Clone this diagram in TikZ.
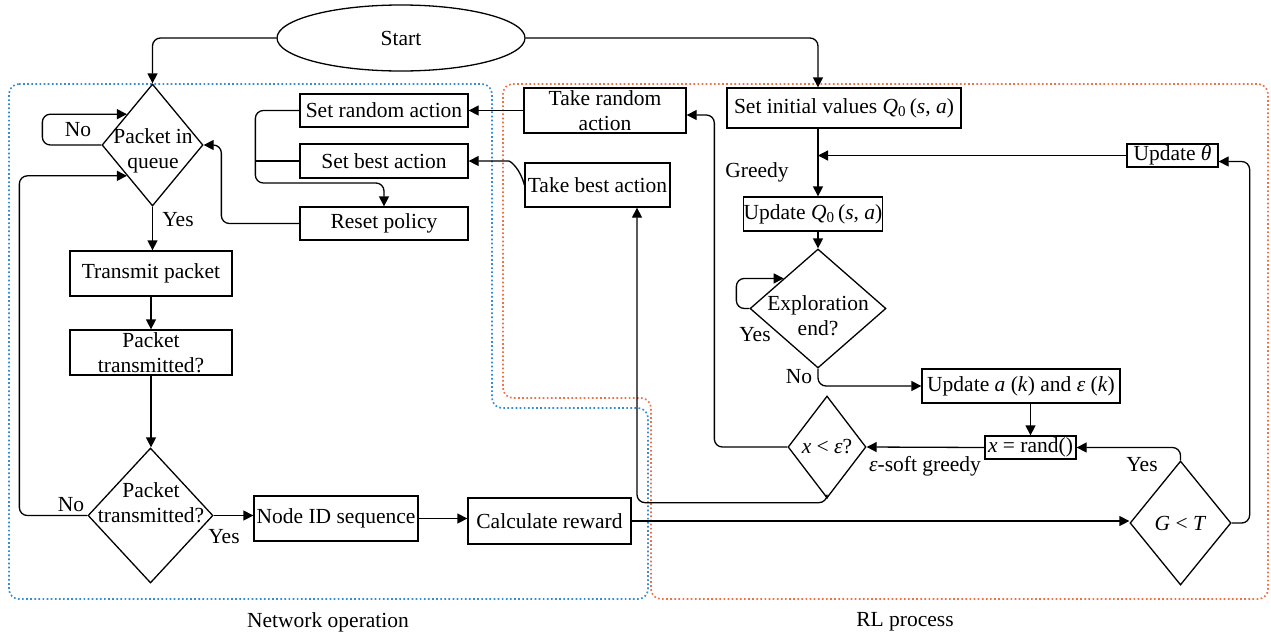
\documentclass[tikz,border=0pt]{standalone}
\usepackage{fontspec}
\setmainfont{Liberation Serif}
\usetikzlibrary{arrows.meta,shapes.geometric,calc}
\definecolor{netblue}{RGB}{52,140,214}
\definecolor{rlorange}{RGB}{240,112,72}
\begin{document}
\begin{tikzpicture}[x=1pt,y=-1pt,font=\fontsize{21.5}{25}\selectfont,
  box/.style={draw,line width=1.3pt,inner sep=0pt,align=center},
  dia/.style={draw,diamond,line width=1.3pt,inner sep=0pt},
  conn/.style={line width=1.3pt,rounded corners=8pt},
  arr/.style={conn,-{Triangle[length=10pt,width=10pt]}},
  lbl/.style={inner sep=0pt,align=center},
  region/.style={line width=1.7pt,dash pattern=on 1.7pt off 2.4pt,rounded corners=10pt}]
\useasboundingbox (0,0) rectangle (1271,638);
% regions
\draw[region,netblue] (9,84) -- (492,84) -- (492,408) -- (648,408) -- (648,599) -- (9,599) -- cycle;
\draw[region,rlorange] (503,84) -- (1268,84) -- (1268,599) -- (651,599) -- (651,398) -- (503,398) -- cycle;
% nodes
\node[draw,ellipse,line width=1.3pt,inner sep=0pt,minimum width=248pt,minimum height=66pt] (start) at (401,38) {Start};
\node[dia,minimum width=101pt,minimum height=122pt] (dq) at (152.5,145) {};
\node[lbl] (dqt) at (153,151) {Packet in\\queue};
\node[box,minimum width=168pt,minimum height=33pt] (sra) at (384,110.5) {Set random action};
\node[box,minimum width=168pt,minimum height=34pt] (sba) at (384,161) {Set best action};
\node[box,minimum width=168pt,minimum height=33pt] (rp) at (384,223.5) {Reset policy};
\node[box,minimum width=162pt,minimum height=45pt] (tp) at (151,273.5) {Transmit packet};
\node[box,minimum width=162pt,minimum height=45pt] (ptb) at (151,352.5) {Packet\\transmitted?};
\node[dia,minimum width=125pt,minimum height=135pt] (dpt) at (150.5,515.5) {};
\node[lbl] (dptt) at (151,503) {Packet\\transmitted?};
\node[box,minimum width=164pt,minimum height=45pt] (nid) at (336,518.5) {Node ID sequence};
\node[box,minimum width=163pt,minimum height=46pt] (cr) at (549.5,521) {Calculate reward};
\node[box,minimum width=162pt,minimum height=45pt] (tra) at (605,110.5) {Take random\\action};
\node[box,minimum width=145pt,minimum height=44pt] (tba) at (597.5,185) {Take best action};
\node[box,minimum width=234pt,minimum height=40pt] (siv) at (844,108) {Set initial values \textit{Q}\textsubscript{0}\,(\textit{s}, \textit{a})};
\node[box,minimum width=138pt,minimum height=34pt] (uq) at (813,214) {Update \textit{Q}\textsubscript{0}\,(\textit{s}, \textit{a})};
\node[box,minimum width=91pt,minimum height=23pt] (uth) at (1172.5,155.5) {Update \textit{θ}};
\node[dia,minimum width=136pt,minimum height=119pt] (dex) at (818,308.5) {};
\node[lbl] (dext) at (818,316) {Exploration\\end?};
\node[box,minimum width=198pt,minimum height=34pt] (ua) at (1021,386) {Update \textit{a} (\textit{k}) and \textit{ε} (\textit{k})};
\node[box,minimum width=91pt,minimum height=23pt] (xr) at (1030.5,447.5) {\textit{x} = rand()};
\node[dia,minimum width=78pt,minimum height=102pt] (dx) at (827,447) {};
\node[lbl] (dxt) at (827,447) {\textit{x} < \textit{ε}?};
\node[dia,minimum width=101pt,minimum height=124pt] (dg) at (1180.5,523) {};
\node[lbl] (dgt) at (1180.5,523) {\textit{G} < \textit{T}};
% labels
\node[lbl] (l1) at (78,130) {No};
\node[lbl] (l2) at (178,220) {Yes};
\node[lbl] (l3) at (71,505) {No};
\node[lbl] (l4) at (224,537) {Yes};
\node[lbl] (l5) at (757,172) {Greedy};
\node[lbl] (l6) at (755,335) {Yes};
\node[lbl] (l7) at (799,377) {No};
\node[lbl] (l8) at (925,466) {\textit{ε}-soft greedy};
\node[lbl] (l9) at (1142,465) {Yes};
\node[lbl] (l10) at (328,622) {Network operation};
\node[lbl] (l11) at (905,622) {RL process};
% connectors
\draw[arr] (start.west) -| (dq.north);
\draw[arr] (start.east) -| ($(siv.north)+(-26,0)$);
\draw[arr] ($(siv.south)+(-26,0)$) -- ($(uq.north)+(5,0)$);
\draw[arr] ($(uq.south)+(5,0)$) -- (dex.north);
\draw[arr] (uth.west) -- (uth.west -| dex.north);
\draw[arr] (dex.west) -- ++(-13,0) |- ($(dex.west)!.5!(dex.north)$);
\draw[arr] (dex.south) |- (ua.west);
\draw[arr] (ua.south -| xr.north) -- (xr.north);
\draw[arr] (xr.west) -- (dx.east);
\draw[arr] (dg.north) |- (xr.east);
\draw[arr] (dg.east) -- ++(18,0) |- ($(uth.east)+(0,6)$);
\draw[arr] (cr.east) -- (cr.east -| dg.west);
\draw[arr] (dx.west) -- ++(-73,0) |- ($(tra.east)+(0,4.5)$);
\draw[arr] (dx.south) -- ++(0,4) -| ($(tba.south)+(39.5,0)$);
\draw[arr] (tra.west) -- (sra.east);
\draw[arr] (tba.west) .. controls +(-4,-16) and +(10,0) .. ($(sba.east)+(32,0)$) -- (sba.east);
\draw[arr] (sra.west) -- ++(-44,0) |- (rp.north |- 0,183) -- (rp.north);
\draw[conn] (sba.west) -- ++(-44,0);
\draw[arr] (rp.west) -- ++(-78,0) |- (dq.east);
\draw[arr] (dq.west) -- ++(-59,0) |- ($(dq.west)!.5!(dq.north)$);
\draw[arr] (dq.south) -- (dq.south |- tp.north);
\draw[arr] (tp.south) -- (ptb.north);
\draw[arr] (ptb.south) -- (ptb.south |- dpt.north);
\draw[arr] (dpt.west) -- ++(-68,0) |- ($(dq.west)!.5!(dq.south)$);
\draw[arr] (dpt.east) -- (dpt.east -| nid.west);
\draw[arr] (nid.east) -- (nid.east -| cr.west);
\end{tikzpicture}
\end{document}
